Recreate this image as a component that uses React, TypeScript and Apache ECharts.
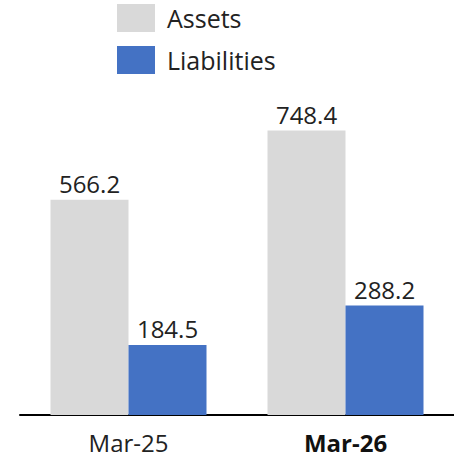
import React, { useEffect, useRef } from "react";
import * as echarts from "echarts";

const categories = ["Mar-25", "Mar-26"];
const assets = [566.2, 748.4];
const liabilities = [184.5, 288.2];

export default function App() {
  const ref = useRef<HTMLDivElement>(null);
  useEffect(() => {
    const chart = echarts.init(ref.current!, null, { renderer: "svg" });
    const font = "'Open Sans', sans-serif";
    chart.setOption({
      animation: false,
      textStyle: { fontFamily: font },
      legend: {
        orient: "vertical",
        left: 117,
        top: 4,
        padding: 0,
        icon: "rect",
        itemWidth: 38,
        itemHeight: 28,
        itemGap: 14,
        textStyle: { fontSize: 25, lineHeight: 28, color: "#222", fontFamily: font, padding: [0, 0, 0, 7] },
        data: ["Assets", "Liabilities"],
      },
      grid: { left: 20, right: 0, top: 111, bottom: 44 },
      xAxis: {
        type: "category",
        data: categories,
        axisLine: { lineStyle: { color: "#000", width: 2 } },
        axisTick: { show: false },
        axisLabel: {
          fontSize: 24,
          color: "#222",
          margin: 15,
          fontFamily: font,
          formatter: (v: string) => (v === "Mar-26" ? "{b|" + v + "}" : v),
          rich: { b: { fontWeight: "bold", fontSize: 24, color: "#111", fontFamily: font } },
        },
      },
      yAxis: {
        type: "value",
        min: 0,
        max: 800,
        show: false,
        splitLine: { show: false },
      },
      series: [
        {
          name: "Assets",
          type: "bar",
          data: assets,
          barWidth: 78,
          barGap: "0%",
          itemStyle: { color: "#d9d9d9" },
          label: { show: true, position: "top", fontSize: 24, color: "#222", distance: 4, fontFamily: font },
        },
        {
          name: "Liabilities",
          type: "bar",
          data: liabilities,
          barWidth: 78,
          barGap: "0%",
          itemStyle: { color: "#4472c4" },
          label: { show: true, position: "top", fontSize: 24, color: "#222", distance: 4, fontFamily: font },
        },
      ],
    });
    return () => chart.dispose();
  }, []);
  return <div ref={ref} style={{ width: 454, height: 459, position: "absolute", left: 0, top: 0 }} />;
}
